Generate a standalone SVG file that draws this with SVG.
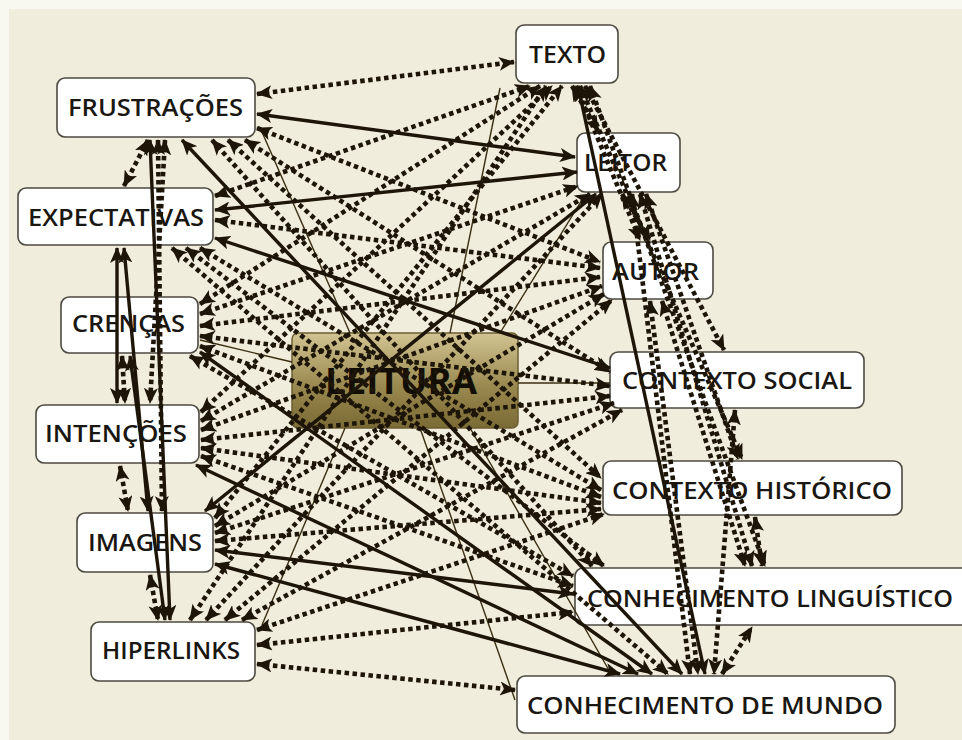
<svg xmlns="http://www.w3.org/2000/svg" width="962" height="740" viewBox="0 0 962 740">
<defs>
<style>
.n{fill:#fff;stroke:#4d4a40;stroke-width:1.6}
.lb{font-family:"Open Sans","Noto Sans",sans-serif;font-size:23px;font-weight:600;fill:#1a1712}
.d{stroke:#1e1509;stroke-width:4.6;stroke-dasharray:4.5 3.5;fill:none}
.s{stroke:#1e1509;stroke-width:3.4;fill:none}
.t{stroke:#3a2e12;stroke-width:1.4;fill:none}
.b{marker-start:url(#a);marker-end:url(#a)}
.e{marker-end:url(#a)}
</style>
<marker id="a" viewBox="0 0 16 14" refX="15" refY="7" markerWidth="16" markerHeight="14" markerUnits="userSpaceOnUse" orient="auto-start-reverse">
<path d="M0,0 L16,7 L0,14 L4,7 z" fill="#1e1509"/>
</marker>
<linearGradient id="g" x1="0" y1="0" x2="0" y2="1">
<stop offset="0" stop-color="#d2c493"/>
<stop offset="0.55" stop-color="#9a8a50"/>
<stop offset="1" stop-color="#7a6a34"/>
</linearGradient>
</defs>
<rect x="0" y="0" width="962" height="740" fill="#f8f7f0"/>
<rect x="9" y="9" width="953" height="731" fill="#f0eddd"/>

<g id="node-leitura"><rect x="292" y="333" width="226" height="95" rx="6" fill="url(#g)" stroke="#6b5e30" stroke-width="1.5"/><text x="325" y="394" textLength="152" lengthAdjust="spacingAndGlyphs" style="font-family:'Open Sans','Noto Sans',sans-serif;font-size:36px;font-weight:bold;fill:#120e06">LEITURA</text></g>
<g id="node-texto"><rect class="n" x="516" y="25" width="102" height="58" rx="8"/><text class="lb" x="529" y="63" textLength="77" lengthAdjust="spacingAndGlyphs">TEXTO</text></g>
<g id="node-frustracoes"><rect class="n" x="57" y="78" width="198" height="59" rx="8"/><text class="lb" x="68" y="116" textLength="175" lengthAdjust="spacingAndGlyphs">FRUSTRAÇÕES</text></g>
<g id="node-leitor"><rect class="n" x="577" y="133" width="103" height="59" rx="8"/><text class="lb" x="584" y="171" textLength="83" lengthAdjust="spacingAndGlyphs">LEITOR</text></g>
<g id="node-expectativas"><rect class="n" x="18" y="188" width="195" height="57" rx="8"/><text class="lb" x="28" y="226" textLength="176" lengthAdjust="spacingAndGlyphs">EXPECTATIVAS</text></g>
<g id="node-autor"><rect class="n" x="603" y="242" width="110" height="57" rx="8"/><text class="lb" x="612" y="280" textLength="87" lengthAdjust="spacingAndGlyphs">AUTOR</text></g>
<g id="node-crencas"><rect class="n" x="61" y="297" width="137" height="56" rx="8"/><text class="lb" x="72" y="332" textLength="113" lengthAdjust="spacingAndGlyphs">CRENÇAS</text></g>
<g id="node-contexto-social"><rect class="n" x="610" y="352" width="254" height="56" rx="8"/><text class="lb" x="622" y="389" textLength="230" lengthAdjust="spacingAndGlyphs">CONTEXTO SOCIAL</text></g>
<g id="node-intencoes"><rect class="n" x="36" y="405" width="163" height="58" rx="8"/><text class="lb" x="45" y="442" textLength="142" lengthAdjust="spacingAndGlyphs">INTENÇÕES</text></g>
<g id="node-contexto-historico"><rect class="n" x="603" y="461" width="299" height="54" rx="8"/><text class="lb" x="612" y="499" textLength="280" lengthAdjust="spacingAndGlyphs">CONTEXTO HISTÓRICO</text></g>
<g id="node-imagens"><rect class="n" x="77" y="513" width="136" height="59" rx="8"/><text class="lb" x="88" y="551" textLength="114" lengthAdjust="spacingAndGlyphs">IMAGENS</text></g>
<g id="node-conhecimento-linguistico"><rect class="n" x="575" y="568" width="400" height="57" rx="8"/><text class="lb" x="587" y="607" textLength="366" lengthAdjust="spacingAndGlyphs">CONHECIMENTO LINGUÍSTICO</text></g>
<g id="node-hiperlinks"><rect class="n" x="91" y="622" width="164" height="59" rx="8"/><text class="lb" x="102" y="659" textLength="138" lengthAdjust="spacingAndGlyphs">HIPERLINKS</text></g>
<g id="node-conhecimento-de-mundo"><rect class="n" x="517" y="676" width="378" height="57" rx="8"/><text class="lb" x="527" y="714" textLength="356" lengthAdjust="spacingAndGlyphs">CONHECIMENTO DE MUNDO</text></g>

<g id="connectors">
<line class="t" x1="350" y1="333" x2="262" y2="132"/>
<line class="t" x1="450" y1="333" x2="500" y2="88"/>
<line class="t" x1="500" y1="333" x2="585" y2="195"/>
<line class="t" x1="518" y1="383" x2="610" y2="383"/>
<line class="t" x1="292" y1="362" x2="200" y2="340"/>
<line class="t" x1="345" y1="428" x2="262" y2="625"/>
<line class="t" x1="420" y1="428" x2="515" y2="700"/>
<line class="t" x1="470" y1="428" x2="610" y2="672"/>
<line class="d b" x1="257" y1="94" x2="514" y2="62"/>
<line class="s b" x1="257" y1="114" x2="575" y2="157"/>
<line class="d b" x1="257" y1="128" x2="600" y2="262"/>
<line class="d b" x1="245" y1="140" x2="610" y2="372"/>
<line class="d b" x1="228" y1="140" x2="601" y2="478"/>
<line class="d b" x1="212" y1="140" x2="592" y2="566"/>
<line class="s b" x1="182" y1="140" x2="682" y2="674"/>
<line class="d b" x1="215" y1="196" x2="530" y2="86"/>
<line class="s b" x1="577" y1="172" x2="215" y2="210"/>
<line class="d b" x1="215" y1="220" x2="600" y2="268"/>
<line class="s b" x1="215" y1="238" x2="610" y2="368"/>
<line class="d b" x1="200" y1="248" x2="601" y2="490"/>
<line class="d b" x1="186" y1="248" x2="604" y2="566"/>
<line class="d b" x1="172" y1="248" x2="668" y2="674"/>
<line class="d b" x1="200" y1="304" x2="540" y2="86"/>
<line class="d b" x1="200" y1="314" x2="578" y2="186"/>
<line class="d b" x1="200" y1="326" x2="600" y2="277"/>
<line class="d b" x1="200" y1="336" x2="610" y2="386"/>
<line class="d b" x1="200" y1="346" x2="601" y2="497"/>
<line class="d b" x1="190" y1="356" x2="573" y2="576"/>
<line class="s b" x1="200" y1="352" x2="652" y2="674"/>
<line class="d b" x1="201" y1="412" x2="552" y2="86"/>
<line class="d b" x1="201" y1="421" x2="590" y2="194"/>
<line class="d b" x1="201" y1="430" x2="602" y2="286"/>
<line class="d b" x1="201" y1="440" x2="610" y2="396"/>
<line class="d b" x1="201" y1="448" x2="601" y2="503"/>
<line class="d b" x1="201" y1="456" x2="573" y2="586"/>
<line class="s b" x1="196" y1="465" x2="638" y2="674"/>
<line class="d b" x1="215" y1="518" x2="562" y2="86"/>
<line class="s b" x1="205" y1="511" x2="596" y2="194"/>
<line class="d b" x1="215" y1="526" x2="604" y2="294"/>
<line class="d b" x1="215" y1="533" x2="614" y2="403"/>
<line class="d b" x1="215" y1="541" x2="601" y2="509"/>
<line class="s b" x1="215" y1="550" x2="573" y2="594"/>
<line class="s b" x1="215" y1="564" x2="620" y2="674"/>
<line class="d b" x1="190" y1="620" x2="546" y2="86"/>
<line class="d b" x1="206" y1="620" x2="602" y2="194"/>
<line class="d b" x1="225" y1="620" x2="612" y2="300"/>
<line class="d b" x1="242" y1="620" x2="622" y2="410"/>
<line class="d b" x1="257" y1="630" x2="604" y2="514"/>
<line class="d b" x1="257" y1="645" x2="573" y2="612"/>
<line class="d b" x1="257" y1="664" x2="515" y2="690"/>
<line class="d b" x1="148" y1="140" x2="124" y2="186"/>
<line class="s b" x1="150" y1="140" x2="170" y2="620"/>
<line class="d b" x1="158" y1="140" x2="162" y2="511"/>
<line class="d b" x1="165" y1="140" x2="150" y2="403"/>
<line class="s b" x1="117" y1="248" x2="117" y2="403"/>
<line class="s b" x1="124" y1="248" x2="148" y2="511"/>
<line class="s b" x1="130" y1="356" x2="165" y2="620"/>
<line class="d b" x1="122" y1="356" x2="125" y2="403"/>
<line class="d b" x1="120" y1="466" x2="128" y2="511"/>
<line class="d b" x1="150" y1="575" x2="158" y2="620"/>
<line class="d b" x1="572" y1="86" x2="598" y2="131"/>
<line class="d b" x1="576" y1="86" x2="640" y2="240"/>
<line class="d b" x1="585" y1="86" x2="724" y2="350"/>
<line class="d b" x1="580" y1="86" x2="742" y2="459"/>
<line class="d b" x1="590" y1="86" x2="765" y2="566"/>
<line class="s b" x1="578" y1="86" x2="705" y2="674"/>
<line class="d b" x1="622" y1="194" x2="650" y2="240"/>
<line class="d b" x1="632" y1="194" x2="690" y2="674"/>
<line class="d b" x1="640" y1="194" x2="752" y2="566"/>
<line class="d b" x1="646" y1="194" x2="738" y2="459"/>
<line class="d b" x1="650" y1="301" x2="698" y2="674"/>
<line class="d b" x1="662" y1="301" x2="745" y2="566"/>
<line class="d b" x1="735" y1="410" x2="714" y2="674"/>
<line class="d b" x1="755" y1="517" x2="762" y2="566"/>
<line class="d b" x1="722" y1="674" x2="752" y2="627"/>
</g>
</svg>
